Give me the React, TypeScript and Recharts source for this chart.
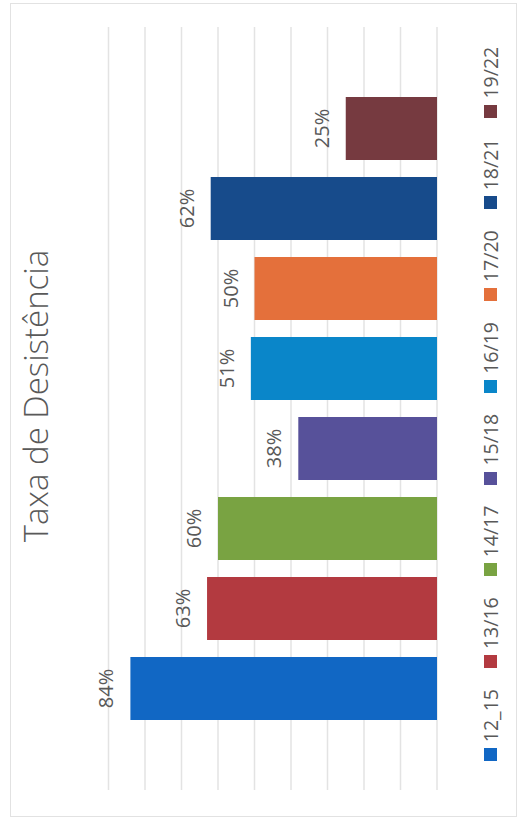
import React from 'react';
import { BarChart, Bar, XAxis, YAxis, CartesianGrid, Legend, LabelList } from 'recharts';

const title = 'Taxa de Desistência';
const cohorts = ['12_15', '13/16', '14/17', '15/18', '16/19', '17/20', '18/21', '19/22'];
const rates = [84, 63, 60, 38, 51, 50, 62, 25];
const colors = ['#1167C4', '#B33A40', '#79A342', '#57519A', '#0A86C9', '#E4703B', '#174B8B', '#763A40'];
const valueTicks = [0, 10, 20, 30, 40, 50, 60, 70, 80, 90];

const seriesKeys = cohorts.map((_, i) => `s${i}`);
const row: Record<string, any> = { name: 'Taxa' };
cohorts.forEach((_, i) => {
  row[seriesKeys[i]] = rates[i];
});
const data = [row];

const FONT = '"Open Sans", "Liberation Sans", sans-serif';
const TEXT = '#595959';

const renderLegend = (props: any) => {
  const payload = props.payload || [];
  return (
    <div
      style={{
        display: 'flex',
        justifyContent: 'center',
        alignItems: 'center',
        fontFamily: FONT,
        fontSize: 19.5,
        color: TEXT,
        lineHeight: '27px',
        whiteSpace: 'nowrap',
      }}
    >
      {payload.map((p: any, i: number) => (
        <div
          key={i}
          style={{ display: 'flex', alignItems: 'center', marginRight: i < payload.length - 1 ? 21 : 0 }}
        >
          <span style={{ display: 'inline-block', width: 13, height: 13, background: p.color, marginRight: 6 }} />
          <span>{p.value}</span>
        </div>
      ))}
    </div>
  );
};

export default function App() {
  return (
    <div style={{ position: 'absolute', left: 0, top: 0, width: 524, height: 827, background: '#fff', overflow: 'hidden' }}>
      <div
        style={{
          position: 'absolute',
          left: 0,
          top: 0,
          width: 814,
          height: 507,
          boxSizing: 'border-box',
          border: '1px solid #e2e2e2',
          transformOrigin: '0 0',
          transform: 'translate(10px, 817px) rotate(-90deg)',
        }}
      >
        <div style={{ position: 'absolute', left: -1, top: -1 }}>
          <BarChart
            width={814}
            height={507}
            data={data}
            margin={{ top: 98.5, right: 24, bottom: 80, left: 27 }}
            barGap={17}
            barSize={63}
          >
            <CartesianGrid vertical={false} stroke="#e3e3e3" strokeWidth={1.5} />
            <XAxis dataKey="name" hide />
            <YAxis hide type="number" domain={[0, 90]} ticks={valueTicks} />
            <Legend
              layout="horizontal"
              verticalAlign="middle"
              align="center"
              content={renderLegend}
              wrapperStyle={{ top: 467, left: 6, width: 814 }}
            />
            {seriesKeys.map((k, i) => (
              <Bar key={k} dataKey={k} name={cohorts[i]} fill={colors[i]} isAnimationActive={false}>
                <LabelList
                  dataKey={k}
                  position="top"
                  offset={17}
                  formatter={(v: any) => `${v}%`}
                  fill={TEXT}
                  fontSize={20}
                  fontFamily={FONT}
                />
              </Bar>
            ))}
          </BarChart>
          <div
            style={{
              position: 'absolute',
              top: 2.5,
              left: 0,
              width: 842,
              textAlign: 'center',
              fontFamily: FONT,
              fontSize: 33,
              fontWeight: 300,
              lineHeight: '45px',
              color: TEXT,
              whiteSpace: 'nowrap',
            }}
          >
            {title}
          </div>
        </div>
      </div>
    </div>
  );
}
